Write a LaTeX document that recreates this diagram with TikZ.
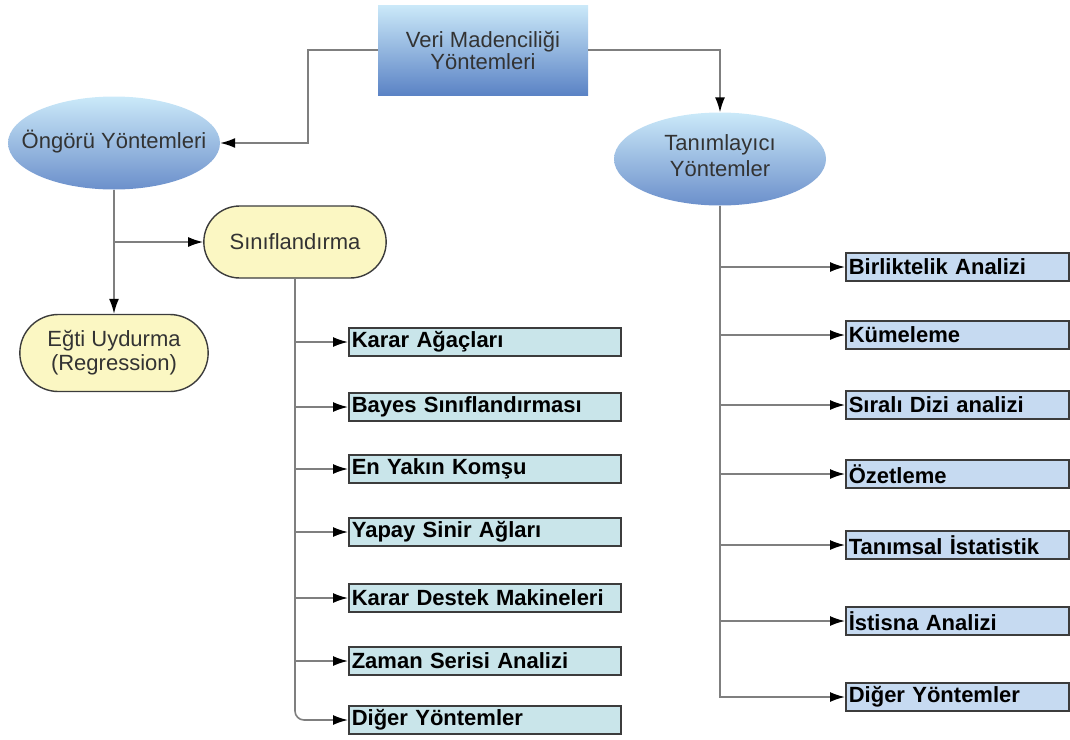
\documentclass[tikz,border=0pt]{standalone}
\usepackage{fontspec}
\setmainfont{Liberation Sans}
\usetikzlibrary{shapes.geometric,shapes.misc,arrows.meta,positioning}

\definecolor{skytop}{HTML}{CBE9F9}
\definecolor{skybot}{HTML}{5B83C5}
\definecolor{cream}{HTML}{FBF7C3}
\definecolor{aqua}{HTML}{C9E5EA}
\definecolor{pale}{HTML}{C6DAF1}
\definecolor{wire}{HTML}{7F7F7F}
\definecolor{rim}{HTML}{3C3C3C}

\newcommand{\midtext}[1]{\makebox[0pt]{\begin{tabular}{@{}c@{}}#1\end{tabular}}}

\begin{document}
\begin{tikzpicture}[x=1pt,y=-1pt,
  font=\fontsize{22}{22}\selectfont,
  conn/.style={draw=wire, line width=1.6pt},
  arr/.style={conn, -{Latex[black,length=15pt,width=10pt]}},
  topbox/.style={rectangle, top color=skytop, bottom color=skybot, align=center,
    minimum width=210, minimum height=90, inner sep=0pt, text=black!80},
  sky/.style={ellipse, top color=skytop, bottom color=skybot!90, inner sep=0pt,
    minimum width=212, minimum height=93, text=black!80},
  pill/.style={rounded rectangle, draw=rim, line width=1.4pt, fill=cream,
    align=center, text=black!80},
  leaf/.style={rectangle, draw=rim, line width=1.6pt, anchor=west, align=left,
    inner xsep=3pt, inner ysep=0pt, minimum height=28,
    font=\fontsize{22}{22}\selectfont\bfseries},
  leafL/.style={leaf, fill=aqua, text width=266},
  leafR/.style={leaf, fill=pale, text width=217}]
\useasboundingbox (0,0) rectangle (1070,739);

\node[topbox] (vm) at (483,50) {Veri Madenciliği\\Yöntemleri};
\node[sky] (ong) at (114,143) {\midtext{Öngörü Yöntemleri}};
\node[sky] (tan) at (720,159) {\midtext{Tanımlayıcı\\[4pt]Yöntemler}};
\node[pill, minimum width=189, minimum height=72] (sin) at (295,242) {Sınıflandırma};
\node[pill, minimum width=195, minimum height=77] (egt) at (114,353) {Eğti Uydurma\\[2pt](Regression)};

% classification leaves
\node[leafL] (bL1) at (348,342) {Karar Ağaçları};
\node[leafL] (bL2) at (348,407) {Bayes Sınıflandırması};
\node[leafL] (bL3) at (348,469) {En Yakın Komşu};
\node[leafL] (bL4) at (348,532) {Yapay Sinir Ağları};
\node[leafL] (bL5) at (348,598) {Karar Destek Makineleri};
\node[leafL] (bL6) at (348,661) {Zaman Serisi Analizi};
\node[leafL] (bL7) at (348,720) {Diğer Yöntemler};

% descriptive leaves
\node[leafR] (bR1) at (845,267) {Birliktelik Analizi};
\node[leafR] (bR2) at (845,335) {Kümeleme};
\node[leafR] (bR3) at (845,405) {Sıralı Dizi analizi};
\node[leafR] (bR4) at (845,474) {Özetleme};
\node[leafR] (bR5) at (845,545) {Tanımsal İstatistik};
\node[leafR] (bR6) at (845,621) {İstisna Analizi};
\node[leafR] (bR7) at (845,697) {Diğer Yöntemler};

\coordinate (vmL) at (308,50);
\draw[arr] (vm.west) -- (vmL) |- (ong.east);
\draw[arr] (vm.east) -| (tan.north);
\draw[arr] (ong.south) -- (egt.north);
\draw[arr] (ong.south |- sin.west) -- (sin.west);

\draw[arr, rounded corners=9pt] (sin.south) |- (bL7.west);
\foreach \i in {1,...,6}
  \draw[arr] (sin.south |- bL\i.west) -- (bL\i.west);

\draw[arr] (tan.south) |- (bR7.west);
\foreach \i in {1,...,6}
  \draw[arr] (tan.south |- bR\i.west) -- (bR\i.west);
\end{tikzpicture}
\end{document}
